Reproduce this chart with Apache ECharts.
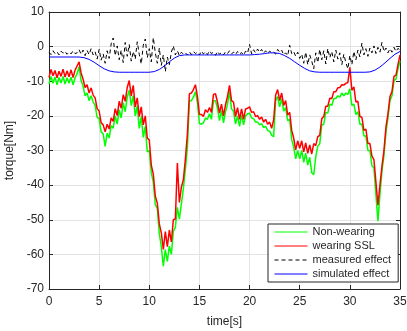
<!DOCTYPE html>
<html>
<head>
<meta charset="utf-8">
<script src="https://cdn.jsdelivr.net/npm/echarts@6/dist/echarts.min.js"></script>
<style>html,body{margin:0;padding:0;background:#fff;}#c{width:407px;height:331px;}</style>
</head>
<body>
<div id="c"></div>
<script>
// sample spacing (s) of the noisy series and of the simulated series
const stepNoisy = 0.2;
const stepSim = 0.5;
const xTicks = [0, 5, 10, 15, 20, 25, 30, 35];
const yTicks = [-70, -60, -50, -40, -30, -20, -10, 0, 10];
const seriesNames = ['Non-wearing', 'wearing SSL', 'measured effect', 'simulated effect'];

const nonWearing = [
-10.8,-8.6,-10.6,-8.8,-11.0,-8.9,-10.5,-8.6,-10.8,-9.0,
-10.6,-8.8,-11.0,-9.0,-7.8,-5.8,-9.8,-11.4,-14.2,-13.4,
-15.6,-14.2,-16.0,-17.0,-20.4,-20.8,-24.6,-25.2,-28.8,-25.0,
-26.4,-22.8,-23.6,-20.0,-22.4,-18.2,-20.6,-16.2,-18.8,-14.6,
-12.6,-17.0,-14.2,-20.0,-17.2,-23.6,-20.2,-26.2,-23.0,-30.4,
-30.0,-36.4,-39.2,-45.6,-46.8,-54.0,-57.8,-63.4,-58.6,-62.0,
-57.6,-60.0,-53.4,-52.2,-46.4,-49.8,-45.4,-41.0,-35.4,-29.2,
-15.6,-15.6,-14.6,-13.0,-16.2,-22.2,-22.4,-22.0,-20.6,-21.0,
-19.4,-21.0,-15.6,-15.6,-17.8,-21.4,-18.4,-22.0,-18.8,-16.6,
-13.0,-18.0,-18.6,-22.4,-20.0,-23.0,-19.8,-22.6,-20.0,-19.4,
-19.2,-20.6,-20.8,-21.8,-21.8,-22.6,-22.2,-23.4,-23.0,-24.2,
-24.4,-25.6,-26.0,-15.6,-14.4,-17.4,-15.0,-18.6,-17.6,-21.4,
-21.0,-26.8,-29.0,-32.4,-30.0,-32.4,-30.0,-33.4,-30.8,-34.2,
-32.0,-36.4,-37.0,-31.8,-28.8,-28.0,-22.6,-22.4,-19.0,-19.2,
-16.6,-17.0,-15.0,-15.0,-14.2,-14.6,-13.4,-14.2,-13.4,-13.8,
-12.2,-17.0,-16.6,-19.6,-18.8,-22.4,-22.4,-25.8,-25.8,-30.0,
-30.0,-34.4,-35.0,-42.8,-50.4,-42.6,-36.0,-31.4,-24.8,-20.6,
-15.6,-14.2,-9.8,-9.4,-6.4,-4.2
];

const wearingSSL = [
-8.9,-6.6,-8.4,-6.9,-9.0,-7.1,-8.6,-6.5,-8.8,-7.0,
-8.7,-6.7,-8.9,-6.8,-5.6,-4.4,-7.6,-9.4,-11.8,-11.0,
-13.4,-11.9,-14.0,-14.8,-17.9,-18.6,-22.0,-22.6,-24.6,-22.4,
-23.8,-20.6,-21.6,-17.9,-19.9,-15.8,-17.8,-13.9,-15.8,-11.8,
-9.8,-14.2,-11.2,-17.4,-14.8,-20.2,-17.4,-22.6,-20.0,-26.4,
-27.0,-34.2,-36.8,-43.2,-45.2,-51.2,-53.8,-58.6,-53.4,-57.8,
-53.0,-56.4,-50.0,-49.8,-33.6,-45.0,-40.6,-38.4,-32.5,-25.2,
-13.6,-13.4,-12.4,-11.0,-14.4,-19.6,-19.6,-20.2,-18.2,-19.0,
-17.6,-19.0,-13.8,-13.6,-16.0,-19.2,-16.6,-20.0,-16.8,-14.4,
-11.2,-15.6,-16.0,-20.2,-17.6,-21.0,-18.0,-21.0,-18.0,-17.8,
-17.4,-19.0,-18.8,-20.2,-19.9,-21.0,-20.3,-21.8,-21.0,-22.4,
-21.8,-23.6,-21.2,-14.0,-12.4,-15.6,-13.4,-17.0,-15.6,-19.8,
-19.0,-24.2,-26.4,-29.8,-27.2,-29.4,-27.2,-30.4,-27.8,-30.8,
-28.4,-31.0,-28.0,-28.6,-26.0,-25.6,-20.8,-20.2,-17.2,-17.2,
-14.9,-15.0,-13.0,-13.0,-11.9,-11.8,-11.0,-11.1,-10.6,-10.4,
-6.0,-12.6,-11.6,-16.0,-15.8,-20.2,-20.4,-24.2,-23.8,-28.0,
-28.0,-31.6,-32.6,-39.2,-45.8,-40.0,-34.6,-30.0,-23.2,-19.4,
-14.4,-13.0,-8.6,-8.2,-5.2,-2.4
];

const measuredEffect = [
-1.6,-2.3,-1.2,-2.0,-1.5,-2.4,-1.3,-1.9,-1.4,-2.2,
-1.6,-2.1,-1.2,-2.0,-1.8,-0.9,-2.2,-1.0,-2.6,-1.1,
-2.3,-0.6,-2.4,-1.5,-3.6,-0.8,-3.9,-2.1,-4.8,-1.2,
-3.4,0.8,2.5,-2.6,0.2,-3.8,-1.0,-4.6,1.2,-2.8,
0.6,-4.2,-1.4,-3.6,1.4,-2.2,-5.0,0.4,2.2,-3.2,
-0.6,-4.4,2.6,-1.8,-4.8,-0.4,-5.4,-2.4,-7.2,-3.0,
-5.2,-1.6,0.2,-2.4,-1.2,-2.6,-1.6,-2.2,-1.8,-2.4,
-1.5,-2.3,-1.4,-2.0,-1.6,-2.4,-1.3,-2.1,-1.5,-2.3,
-1.2,-2.0,-1.6,-2.5,-1.4,-2.2,-1.7,-2.4,-1.5,-2.0,
-1.2,-2.1,-1.6,-2.3,-1.4,-2.2,-1.7,-2.5,-1.3,-1.9,
0.6,-2.1,-0.9,-1.8,-0.7,-1.6,-0.8,-1.9,-1.2,-2.0,
-1.3,-1.8,-1.5,-2.2,-0.8,-1.6,-1.0,-2.4,-1.8,-2.6,
0.4,-2.0,-1.4,-2.8,-1.6,-3.4,-2.2,-4.8,-1.6,-5.2,
-2.4,-4.2,-6.4,-1.8,-4.6,-0.8,-3.8,-1.2,-5.0,-0.6,
-3.2,-1.4,-4.4,-1.0,-3.6,-1.8,-5.2,-2.2,-4.6,-6.4,
-2.6,-5.2,-1.4,-3.8,-1.0,-3.0,1.0,-2.4,-0.6,-2.8,
-0.4,-1.8,0.2,-2.0,-0.2,-1.6,1.2,-1.4,-0.4,-1.8,
-0.6,-1.6,-0.2,-1.4,-0.5,-1.0
];

const simulatedEffect = [
-3.0,-3.0,-3.0,-3.0,-3.0,-3.0,-3.0,-3.2,-3.7,-4.5,
-5.5,-6.4,-7.0,-7.3,-7.4,-7.4,-7.4,-7.4,-7.4,-7.4,
-7.4,-7.2,-6.6,-5.6,-4.4,-3.3,-2.6,-2.4,-2.4,-2.4,
-2.4,-2.4,-2.4,-2.4,-2.4,-2.4,-2.4,-2.4,-2.4,-2.4,
-2.4,-2.3,-2.2,-2.0,-1.8,-1.8,-2.0,-2.6,-3.4,-4.4,
-5.4,-6.3,-7.0,-7.3,-7.4,-7.4,-7.4,-7.4,-7.4,-7.4,
-7.4,-7.4,-7.4,-7.4,-7.3,-6.8,-5.9,-4.7,-3.4,-2.2,
-1.4
];

function pairs(arr, step) { return arr.map((v, i) => [+(i * step).toFixed(2), v]); }

const FONT = '"Liberation Sans", Arial, sans-serif';
const AX = '#262626';

const chart = echarts.init(document.getElementById('c'), null, { renderer: 'canvas' });

const xMain = {
  type: 'value', min: xTicks[0], max: xTicks[xTicks.length - 1], interval: 5,
  position: 'bottom',
  name: 'time[s]', nameLocation: 'middle', nameGap: 27,
  nameTextStyle: { color: AX, fontSize: 12, fontFamily: FONT },
  axisLine: { show: true, onZero: false, lineStyle: { color: AX, width: 1 } },
  axisTick: { show: true, inside: true, length: 4, lineStyle: { color: AX } },
  axisLabel: { color: AX, fontSize: 12, fontFamily: FONT, margin: 7 },
  splitLine: { show: true, lineStyle: { color: '#e3e3e3', width: 1 } }
};
const yMain = {
  type: 'value', min: yTicks[0], max: yTicks[yTicks.length - 1], interval: 10,
  position: 'left',
  name: 'torque[Nm]', nameLocation: 'middle', nameGap: 32, nameRotate: 90,
  nameTextStyle: { color: AX, fontSize: 12, fontFamily: FONT },
  axisLine: { show: true, onZero: false, lineStyle: { color: AX, width: 1 } },
  axisTick: { show: true, inside: true, length: 4, lineStyle: { color: AX } },
  axisLabel: { color: AX, fontSize: 12, fontFamily: FONT, margin: 5 },
  splitLine: { show: true, lineStyle: { color: '#e3e3e3', width: 1 } }
};

chart.setOption({
  animation: false,
  backgroundColor: '#fff',
  grid: { left: 49, right: 7, top: 12, bottom: 42, containLabel: false, outerBoundsMode: 'none' },
  xAxis: [
    xMain,
    { type: 'value', min: 0, max: 35, interval: 5, position: 'top',
      axisLine: { show: true, onZero: false, lineStyle: { color: AX, width: 1 } },
      axisTick: { show: true, inside: true, length: 4, lineStyle: { color: AX } },
      axisLabel: { show: false }, splitLine: { show: false } }
  ],
  yAxis: [
    yMain,
    { type: 'value', min: -70, max: 10, interval: 10, position: 'right',
      axisLine: { show: true, onZero: false, lineStyle: { color: AX, width: 1 } },
      axisTick: { show: true, inside: true, length: 4, lineStyle: { color: AX } },
      axisLabel: { show: false }, splitLine: { show: false } }
  ],
  legend: {
    orient: 'vertical', left: 268, top: 224,
    backgroundColor: '#fff', borderColor: AX, borderWidth: 1, borderRadius: 0,
    padding: [2, 7, 2, 6],
    itemWidth: 33, itemHeight: 12, itemGap: 2,
    itemStyle: { opacity: 0 },
    lineStyle: { width: 1 },
    textStyle: { color: AX, fontSize: 11, fontFamily: FONT, lineHeight: 12 },
    data: seriesNames
  },
  series: [
    { name: seriesNames[0], type: 'line', data: pairs(nonWearing, stepNoisy), showSymbol: false, symbol: 'none',
      lineStyle: { color: '#00ff00', width: 1.5 }, itemStyle: { color: '#00ff00' } },
    { name: seriesNames[1], type: 'line', data: pairs(wearingSSL, stepNoisy), showSymbol: false, symbol: 'none',
      lineStyle: { color: '#ff0000', width: 1.5 }, itemStyle: { color: '#ff0000' } },
    { name: seriesNames[2], type: 'line', data: pairs(measuredEffect, stepNoisy), showSymbol: false, symbol: 'none',
      lineStyle: { color: '#000000', width: 1, type: [4, 3] }, itemStyle: { color: '#000000' } },
    { name: seriesNames[3], type: 'line', data: pairs(simulatedEffect, stepSim), showSymbol: false, symbol: 'none',
      lineStyle: { color: '#0000ff', width: 1 }, itemStyle: { color: '#0000ff' } }
  ]
});
</script>
</body>
</html>
